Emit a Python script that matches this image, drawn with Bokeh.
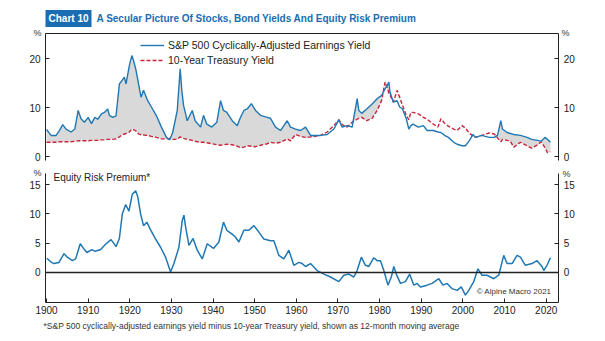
from bokeh.plotting import figure
from bokeh.models import (Range1d, LinearAxis, FixedTicker, Label, Legend, LegendItem,
                          ColumnDataSource, Grid)
from bokeh.embed import file_html
from bokeh.resources import INLINE
import numpy as np

# ---------------- data ----------------
years_top = [1900.0, 1901.1, 1902.3, 1903.1, 1903.9, 1904.7, 1905.9, 1906.8, 1907.6, 1908.3,
             1909.1, 1910.0, 1910.8, 1911.6, 1912.3, 1913.2, 1913.9, 1914.7, 1915.1, 1915.9,
             1916.7, 1917.5, 1918.1, 1918.7, 1919.1, 1919.9, 1920.5, 1920.9, 1921.5, 1922.1,
             1922.7, 1923.3, 1924.3, 1925.2, 1926.4, 1927.6, 1928.8, 1929.6, 1930.3, 1931.4,
             1932.1, 1932.5, 1932.9, 1933.8, 1935.0, 1935.7, 1937.0, 1937.7, 1938.5, 1939.7,
             1940.9, 1941.8, 1942.5, 1943.3, 1944.6, 1945.8, 1946.6, 1947.4, 1948.2, 1949.2,
             1950.2, 1951.4, 1953.0, 1953.8, 1955.0, 1956.2, 1957.8, 1958.6, 1959.8, 1961.0,
             1962.2, 1963.4, 1965.8, 1967.4, 1969.0, 1970.2, 1971.0, 1972.2, 1973.4, 1974.6,
             1975.0, 1975.7, 1976.9, 1978.2, 1979.4, 1980.5, 1981.3, 1981.8, 1982.2, 1982.5,
             1983.3, 1984.2, 1984.8, 1985.5, 1986.4, 1987.0, 1987.5, 1988.0, 1989.3, 1990.5,
             1991.4, 1992.9, 1994.0, 1994.7, 1995.8, 1996.5, 1997.8, 1998.6, 1999.8, 2000.6,
             2001.6, 2002.4, 2003.0, 2004.5, 2006.3, 2007.5, 2008.3, 2009.1, 2009.5, 2010.6,
             2011.4, 2012.2, 2013.8, 2015.4, 2016.5, 2018.0, 2018.8, 2019.7, 2020.3, 2021.0]

earnings_yield = [5.5, 4.3, 4.3, 5.3, 6.5, 5.6, 5.0, 5.6, 9.4, 7.7,
                  7.0, 8.0, 6.7, 8.0, 7.6, 8.7, 9.0, 9.7, 8.4, 8.0,
                  8.3, 14.8, 15.5, 16.2, 14.8, 18.6, 20.6, 19.6, 17.6, 14.8,
                  12.1, 13.5, 11.4, 10.1, 8.3, 6.0, 3.9, 3.4, 4.9, 9.4,
                  17.9, 13.5, 10.5, 7.3, 9.4, 7.3, 6.0, 8.4, 6.6, 6.0,
                  7.0, 11.4, 9.4, 9.0, 7.3, 6.3, 8.0, 9.4, 9.7, 10.8,
                  9.4, 8.4, 8.0, 7.8, 6.0, 5.3, 7.3, 6.0, 5.6, 5.3,
                  6.0, 4.3, 4.3, 4.5, 5.6, 7.5, 6.0, 6.3, 6.0, 11.8,
                  9.4, 8.8, 9.7, 10.7, 11.8, 12.5, 13.8, 14.5, 15.2, 13.1,
                  11.1, 11.4, 10.1, 9.7, 7.7, 5.6, 6.3, 6.6, 6.0, 6.3,
                  5.3, 5.3, 5.0, 4.9, 4.2, 3.9, 2.9, 2.5, 2.2, 2.2,
                  3.3, 4.5, 3.9, 4.3, 3.9, 3.9, 4.3, 7.3, 5.6, 4.9,
                  4.7, 4.5, 4.3, 3.9, 3.5, 3.3, 3.1, 3.9, 3.5, 2.9]

treasury_yield = [2.9, 2.9, 2.9, 3.0, 3.0, 3.0, 3.0, 3.1, 3.2, 3.2,
                  3.2, 3.2, 3.3, 3.3, 3.3, 3.4, 3.4, 3.5, 3.5, 3.5,
                  3.6, 4.0, 4.4, 4.6, 4.7, 5.0, 5.6, 5.5, 5.2, 4.6,
                  4.4, 4.4, 4.3, 4.1, 3.9, 3.6, 3.6, 3.7, 3.5, 3.5,
                  4.0, 3.8, 3.7, 3.5, 3.3, 3.1, 2.9, 2.9, 2.8, 2.6,
                  2.4, 2.3, 2.4, 2.5, 2.4, 2.1, 1.8, 1.9, 2.2, 2.1,
                  2.0, 2.3, 2.6, 2.9, 2.7, 2.9, 3.6, 3.2, 4.5, 4.1,
                  3.9, 4.0, 4.3, 5.0, 6.3, 7.5, 6.5, 6.0, 7.0, 7.6,
                  7.8, 8.0, 7.3, 7.8, 9.4, 11.5, 15.2, 14.1, 13.0, 12.5,
                  11.1, 13.5, 12.1, 10.4, 8.4, 7.5, 9.0, 9.0, 8.7, 8.0,
                  7.6, 6.6, 6.0, 7.7, 6.6, 6.2, 5.6, 5.3, 6.3, 5.8,
                  4.7, 4.2, 3.9, 4.3, 4.8, 4.6, 3.8, 3.0, 3.5, 3.3,
                  3.1, 1.9, 2.9, 2.2, 1.7, 2.4, 3.0, 1.8, 0.8, 1.0]

erp_years = [1900.1, 1901.0, 1901.8, 1903.0, 1904.2, 1905.0, 1906.2, 1907.0, 1908.1, 1908.9,
             1909.7, 1910.9, 1911.7, 1913.0, 1914.3, 1915.5, 1916.7, 1917.5, 1918.2, 1919.0,
             1919.8, 1920.6, 1921.4, 1921.9, 1922.6, 1923.3, 1924.1, 1924.9, 1926.2, 1927.4,
             1928.6, 1929.8, 1930.6, 1931.8, 1932.6, 1933.0, 1933.4, 1934.2, 1935.2, 1936.2,
             1937.4, 1938.6, 1940.1, 1941.4, 1942.5, 1943.3, 1944.5, 1945.3, 1946.2, 1947.4,
             1948.6, 1949.8, 1951.0, 1952.2, 1953.8, 1954.6, 1955.8, 1957.0, 1958.2, 1959.4,
             1960.6, 1961.4, 1962.2, 1963.4, 1965.0, 1966.6, 1968.2, 1970.2, 1971.4, 1972.6,
             1973.8, 1974.6, 1975.6, 1976.6, 1977.4, 1978.6, 1979.4, 1980.2, 1981.0, 1982.0,
             1982.8, 1983.4, 1984.0, 1985.0, 1986.2, 1987.2, 1988.2, 1989.0, 1989.8, 1991.4,
             1992.6, 1994.2, 1995.2, 1996.2, 1997.4, 1998.6, 1999.6, 2000.6, 2001.4, 2002.6,
             2003.6, 2004.6, 2005.8, 2007.4, 2008.6, 2009.8, 2010.6, 2011.8, 2013.0, 2013.8,
             2015.0, 2016.6, 2017.8, 2019.0, 2019.4, 2020.2, 2021.0]

erp = [2.4, 1.8, 1.5, 1.7, 3.2, 2.6, 2.0, 2.3, 4.9, 4.1,
       3.4, 3.9, 3.6, 3.9, 4.9, 5.6, 4.4, 5.8, 10.0, 11.6,
       10.5, 13.4, 14.0, 13.0, 10.0, 8.0, 8.6, 7.4, 5.7, 4.3,
       2.6, 0.05, 1.5, 4.3, 8.9, 9.8, 7.8, 4.6, 5.8, 3.8,
       2.3, 4.9, 4.1, 5.2, 8.6, 7.2, 6.6, 6.1, 5.2, 7.2,
       7.2, 8.0, 6.9, 5.7, 5.4, 5.4, 2.9, 2.3, 3.8, 1.2,
       1.7, 1.5, 1.0, 1.5, 0.3, -0.3, -0.8, -1.6, -0.5, -0.3,
       -0.8, 0.3, 2.6, 1.2, 1.0, 2.5, 2.0, 2.0, 0.3, -2.2,
       -0.8, 1.0, -0.3, -1.9, -1.6, -0.3, -2.2, -1.9, -2.5, -2.2,
       -1.9, -1.1, -2.2, -1.9, -2.8, -3.1, -2.5, -3.9, -3.1, -1.6,
       0.6, -0.5, -0.5, -1.1, -0.5, 2.9, 1.5, 1.5, 2.9, 2.6,
       1.2, 1.5, 2.0, 1.0, 0.3, 1.2, 2.5]

top_ticks = [0, 10, 20]
bottom_ticks = [0, 5, 10, 15]
decade_ticks = list(range(1900, 2021, 10))

# panel extents (in data units)
X0, X1 = 1899.76, 2023.0          # left / right panel edges
TOP_LO, TOP_HI = -0.82, 25.1      # top panel vertical extent
BOT_LO, BOT_HI = -5.1, 17.0       # bottom panel vertical extent

BLUE = "#1f78b4"
RED = "#c8263d"
HEAD = "#1a6db3"
FONT = "Liberation Sans"
INK = "#222222"
W, H = 605, 341

p = figure(width=W, height=H, output_backend="svg", toolbar_location=None,
           x_range=Range1d(1888.953, 2034.238), y_range=Range1d(-37.755, 31.837),
           x_axis_location=None, y_axis_location=None,
           min_border_left=0, min_border_right=0, min_border_top=0, min_border_bottom=0)
p.extra_y_ranges = {"erp": Range1d(-11.86, 46.60)}
p.outline_line_color = None
for g in p.select(type=Grid):
    g.visible = False

# ---------------- top panel ----------------
ey = np.array(earnings_yield)
ty = np.array(treasury_yield)
src = ColumnDataSource(dict(x=years_top, ey=ey, ty=ty, upper=np.maximum(ey, ty)))
p.varea(x="x", y1="ty", y2="upper", source=src, fill_color="#d9d9d9", fill_alpha=1.0)
r_ty = p.line(x="x", y="ty", source=src, line_color=RED, line_width=1.4, line_dash="4 2")
r_ey = p.line(x="x", y="ey", source=src, line_color=BLUE, line_width=1.4)

# ---------------- bottom panel ----------------
p.line(x=erp_years, y=erp, y_range_name="erp", line_color=BLUE, line_width=1.5)


def yaxis(ticks, loc, xloc, bounds, rng="default"):
    ax = LinearAxis(y_range_name=rng, fixed_location=xloc, bounds=bounds,
                    ticker=FixedTicker(ticks=ticks))
    ax.major_tick_in = 4
    ax.major_tick_out = 0
    ax.minor_tick_line_color = None
    ax.major_label_text_font = FONT
    ax.major_label_text_font_size = "10px"
    ax.major_label_text_color = INK
    ax.axis_line_color = INK
    ax.major_tick_line_color = INK
    ax.major_label_standoff = 5
    p.add_layout(ax, loc)
    return ax


def xaxis(ticks, loc, yloc, rng="default", width=1.0):
    ax = LinearAxis(y_range_name=rng, fixed_location=yloc, bounds=(X0, X1),
                    ticker=FixedTicker(ticks=ticks))
    ax.major_tick_in = 4
    ax.major_tick_out = 0
    ax.minor_tick_line_color = None
    ax.major_label_text_font = FONT
    ax.major_label_text_font_size = "10px"
    ax.major_label_text_color = INK
    ax.axis_line_color = INK
    ax.axis_line_width = width
    ax.major_tick_line_color = INK
    ax.major_label_standoff = 4
    if not ticks:
        ax.major_tick_line_color = None
        ax.major_label_text_font_size = "0px"
    p.add_layout(ax, loc)
    return ax


yaxis(top_ticks, "left", X0, (TOP_LO, TOP_HI))
yaxis(top_ticks, "right", X1, (TOP_LO, TOP_HI))
xaxis([], "above", TOP_HI)

yaxis(bottom_ticks, "left", X0, (BOT_LO, BOT_HI), "erp")
yaxis(bottom_ticks, "right", X1, (BOT_LO, BOT_HI), "erp")
xaxis(decade_ticks, "below", BOT_LO, "erp")
xaxis([], "below", 0, "erp", width=1.6)

# ---------------- legend ----------------
legend = Legend(items=[LegendItem(label="S&P 500 Cyclically-Adjusted Earnings Yield", renderers=[r_ey]),
                       LegendItem(label="10-Year Treasury Yield", renderers=[r_ty])],
                location=(140, H - 67))
legend.border_line_color = None
legend.background_fill_alpha = 0
legend.label_text_font = FONT
legend.label_text_font_size = "10.5px"
legend.label_text_color = INK
legend.label_height = 14
legend.glyph_height = 14
legend.glyph_width = 24
legend.spacing = 1
legend.padding = 0
legend.margin = 0
legend.label_standoff = 4
p.add_layout(legend, "center")


def text(x, y_page, s, size, color="#333333", align="left", bold=False, bg=None):
    lab = Label(x=x, y=H - y_page, x_units="screen", y_units="screen", text=s,
                text_font=FONT, text_font_size=size, text_color=color,
                text_align=align, text_baseline="middle",
                text_font_style="bold" if bold else "normal")
    if bg is not None:
        lab.background_fill_color = bg
        lab.padding = 3
    p.add_layout(lab)


# header
text(45, 18, "Chart 10", "10px", color="white", bold=True, bg=HEAD)
text(96, 18, "A Secular Picture Of Stocks, Bond Yields And Equity Risk Premium", "10px",
     color=HEAD, bold=True)
# unit marks
text(37, 32, "%", "9px", align="center")
text(565, 32, "%", "9px", align="center")
text(37, 172, "%", "9px", align="center")
text(566, 173, "%", "9px", align="center")
# panel texts
text(53, 177, "Equity Risk Premium*", "10px", color=INK)
text(551, 291, "© Alpine Macro 2021", "8px", align="right")
text(43, 325, "*S&P 500 cyclically-adjusted earnings yield minus 10-year Treasury yield, shown as 12-month moving average",
     "8.5px")

open("out.html", "w").write(file_html(p, INLINE))
